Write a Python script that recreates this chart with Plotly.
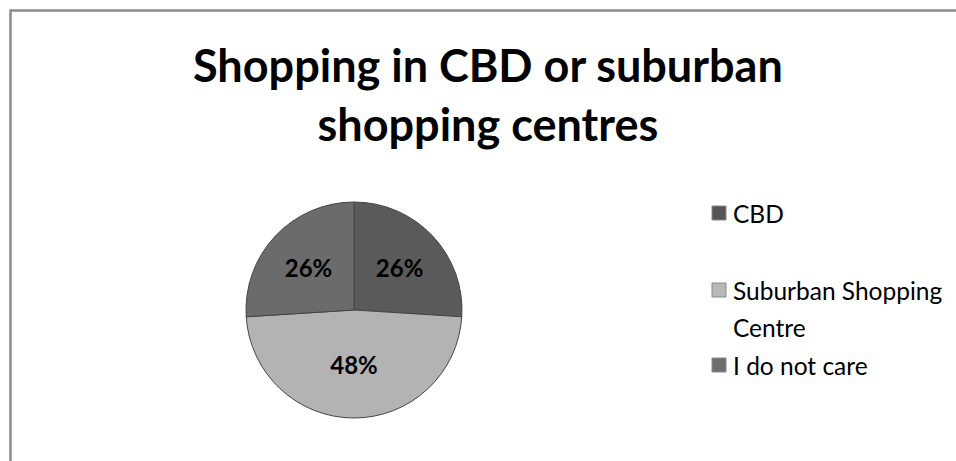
import plotly.graph_objects as go

# Survey answers and their shares (%)
labels = ["CBD", "Suburban Shopping Centre", "I do not care"]
legend_lines = [["CBD"], ["Suburban Shopping", "Centre"], ["I do not care"]]
shares = [26, 48, 26]
slice_colors = ["#5a5a5a", "#b3b3b3", "#6b6b6b"]
legend_colors = ["#555555", "#b8b8b8", "#6e6e6e"]
legend_y_px = [213, 290, 365]  # first-line centre of each legend entry
line_step_px = 37

W, H = 956, 461
title_text = "Shopping in CBD or suburban<br>shopping centres"
font_family = "Lato, 'Open Sans', sans-serif"

cx, cy, r = 354, 310, 108  # pie centre and radius in px

fig = go.Figure()
fig.add_trace(go.Pie(
    labels=labels,
    values=shares,
    sort=False,
    direction="clockwise",
    rotation=0,
    marker=dict(colors=slice_colors, line=dict(color="#454545", width=1)),
    texttemplate="%{percent:.0%}",
    textposition="inside",
    insidetextorientation="horizontal",
    textfont=dict(family=font_family, size=24, color="black", weight="bold"),
    showlegend=False,
    hoverinfo="label+percent",
    domain=dict(x=[(cx - r) / W, (cx + r) / W],
                y=[(H - cy - r) / H, (H - cy + r) / H]),
))

shapes = [
    # chart frame (top and left edges visible)
    dict(type="rect", xref="paper", yref="paper",
         x0=10.5 / W, x1=1.2, y0=-0.2, y1=1 - 10.5 / H,
         line=dict(color="#8c8c8c", width=2.5), fillcolor="rgba(0,0,0,0)", layer="below"),
]
annotations = [
    dict(xref="paper", yref="paper", x=488 / W, y=1 - 36 / H,
         xanchor="center", yanchor="top", align="center",
         text=title_text, showarrow=False,
         font=dict(family=font_family, size=45, color="black", weight="bold")),
]
for lines, col, ypx in zip(legend_lines, legend_colors, legend_y_px):
    s = 14
    shapes.append(dict(type="rect", xref="paper", yref="paper",
                       x0=712 / W, x1=(712 + s) / W,
                       y0=1 - (ypx + s / 2) / H, y1=1 - (ypx - s / 2) / H,
                       line=dict(color="#8a8a8a", width=1), fillcolor=col))
    for k, txt in enumerate(lines):
        yl = ypx + k * line_step_px
        annotations.append(dict(xref="paper", yref="paper", x=731 / W, y=1 - yl / H,
                                xanchor="left", yanchor="middle", align="left",
                                text=txt, showarrow=False,
                                font=dict(family=font_family, size=24.5, color="black")))

fig.update_layout(
    width=W, height=H,
    margin=dict(l=0, r=0, t=0, b=0),
    paper_bgcolor="white",
    plot_bgcolor="white",
    shapes=shapes,
    annotations=annotations,
)

fig.write_html("out.html")
